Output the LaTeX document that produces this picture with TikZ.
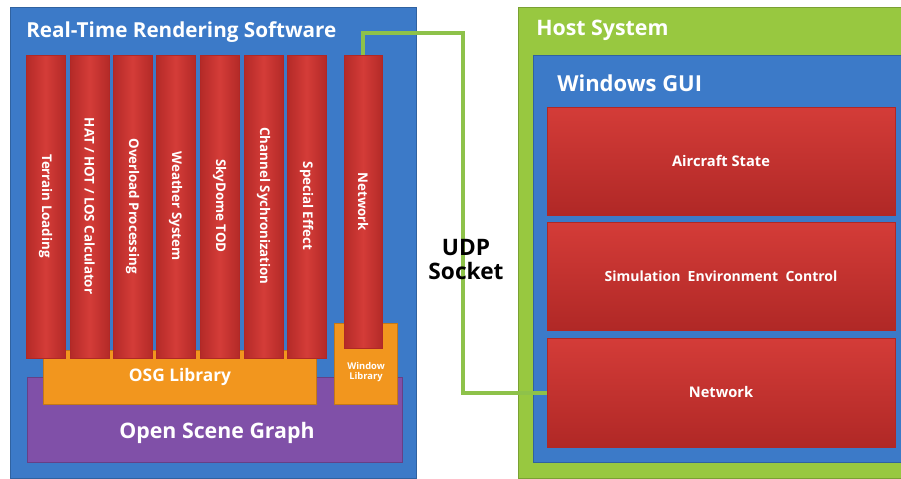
\documentclass[tikz,border=0pt]{standalone}
\usepackage{fontspec}
\setmainfont{Open Sans}
\definecolor{swblue}{RGB}{60,122,200}
\definecolor{barred}{RGB}{212,60,56}
\definecolor{bardark}{RGB}{176,40,38}
\definecolor{liborange}{RGB}{242,150,30}
\definecolor{osgpurple}{RGB}{128,80,168}
\definecolor{hostgreen}{RGB}{152,200,64}
\definecolor{udpgreen}{RGB}{142,194,74}
\tikzset{
  layerbox/.style={draw=#1!80!black, fill=#1, line width=0.6pt},
  redbar/.style={draw=bardark, left color=bardark!90!barred, right color=bardark!90!barred, middle color=barred, line width=0.6pt},
  guibox/.style={draw=bardark, top color=barred, bottom color=bardark, line width=0.6pt},
  bartext/.style={rotate=-90, text=white, inner sep=0.75pt, font=\bfseries\fontsize{10}{12}\selectfont},
  titletext/.style={anchor=west, text=white, inner sep=0.75pt, font=\bfseries\fontsize{15.5}{18}\selectfont},
  guitext/.style={text=white, inner sep=0.75pt, font=\bfseries\fontsize{11}{13}\selectfont},
  udpline/.style={draw=udpgreen, line width=2.6pt}
}
\begin{document}
\begin{tikzpicture}[x=0.75pt,y=0.75pt,yscale=-1,xscale=1]
\useasboundingbox (0,0) rectangle (901,479);

%Real-time rendering software
\draw [layerbox=swblue] (10,7) rectangle (416,478);
\node [titletext] (swtitle) at (25,32) {Real-Time Rendering Software};

%Open Scene Graph
\draw [layerbox=osgpurple] (27,377) rectangle (402,462);
\node [text=white, font=\bfseries\fontsize{16}{18}\selectfont] (osg) at (217,433) {Open Scene Graph};

%Libraries
\draw [layerbox=liborange] (43,350) rectangle (316,404);
\node [text=white, font=\bfseries\fontsize{13}{15}\selectfont] (osglib) at (180,377) {OSG Library};
\draw [layerbox=liborange] (334,323) rectangle (397,404);
\node [text=white, align=center, font=\bfseries\fontsize{7}{8}\selectfont] (winlib) at (366,372) {Window\\Library};

%Module bars
\foreach \x/\lbl [count=\i] in {26/Terrain Loading, 70/{HAT / HOT / LOS Calculator}, 113/Overload Processing, 156/Weather System, 200/SkyDome TOD, 244/Channel Sychronization, 287/Special Effect}
{
  \draw [redbar] (\x,55) rectangle ++(39,303);
  \node [bartext] (bar\i) at (\x+19.5,206) {\lbl};
}
\draw [redbar] (344,55) rectangle (382,348);
\node [bartext] (netbar) at (363,202) {Network};
\coordinate (netbartop) at (363,55);

%Host system
\draw [layerbox=hostgreen] (518,7) rectangle (905,478);
\node [titletext, font=\bfseries\fontsize{16}{18}\selectfont] (hosttitle) at (535,30) {Host System};
\draw [layerbox=swblue] (533,55) rectangle (905,462);
\node [titletext, font=\bfseries\fontsize{16.5}{18}\selectfont] (guititle) at (556,83) {Windows GUI};

\draw [guibox] (547,107) rectangle (895,215);
\node [guitext] (aircraft) at (721,161) {Aircraft State};
\draw [guibox] (547,222) rectangle (895,330);
\node [guitext, font=\bfseries\fontsize{10.5}{13}\selectfont] (simenv) at (721,276) {Simulation \ Environment \ Control};
\draw [guibox] (547,338) rectangle (895,447);
\node [guitext] (hostnet) at (721,392) {Network};
\coordinate (hostnetwest) at (547,393);

%UDP link
\coordinate (udpturn) at (463,33);
\draw [udpline] (netbartop) |- (udpturn) |- (hostnetwest);
\node [align=center, font=\bfseries\fontsize{17}{18}\selectfont] (udp) at (466,260) {UDP\\Socket};

\end{tikzpicture}
\end{document}
